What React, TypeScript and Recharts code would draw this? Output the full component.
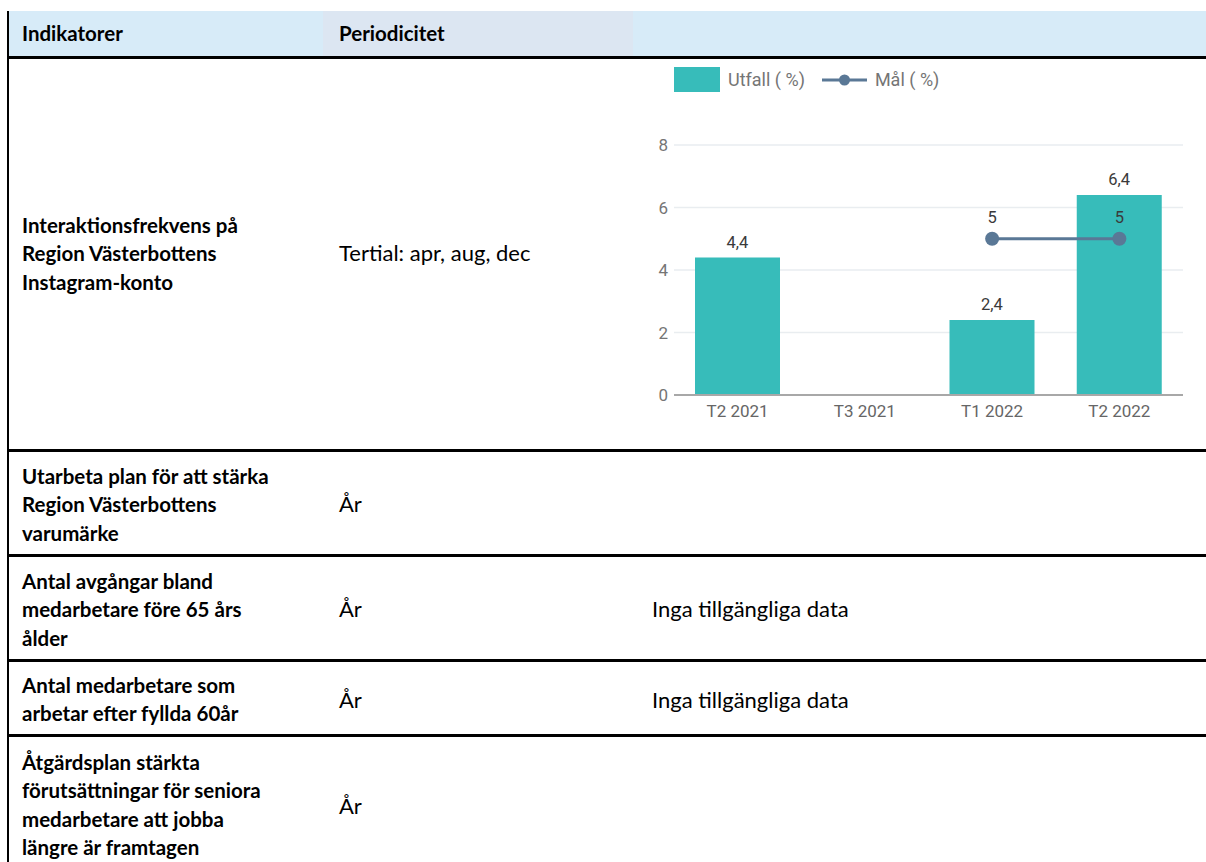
import React from "react";
import {
  ComposedChart,
  Bar,
  Line,
  XAxis,
  YAxis,
  CartesianGrid,
  Legend,
  LabelList,
} from "recharts";

// chart data
const periods = ["T2 2021", "T3 2021", "T1 2022", "T2 2022"];
const utfall: (number | null)[] = [4.4, null, 2.4, 6.4];
const mal: (number | null)[] = [null, null, 5, 5];
const yTicks = [0, 2, 4, 6, 8];

// table content
const headers = ["Indikatorer", "Periodicitet"];
const indicators = [
  ["Interaktionsfrekvens på", "Region Västerbottens", "Instagram-konto"],
  ["Utarbeta plan för att stärka", "Region Västerbottens", "varumärke"],
  ["Antal avgångar bland", "medarbetare före 65 års", "ålder"],
  ["Antal medarbetare som", "arbetar efter fyllda 60år"],
  [
    "Åtgärdsplan stärkta",
    "förutsättningar för seniora",
    "medarbetare att jobba",
    "längre är framtagen",
  ],
];
const periodicity = ["Tertial: apr, aug, dec", "År", "År", "År", "År"];
const noData = [null, null, "Inga tillgängliga data", "Inga tillgängliga data", null];

const TEAL = "#37bcba";
const SLATE = "#5a7896";
const TEXT_FONT = "Lato, 'Open Sans', sans-serif";
const CHART_FONT = "Roboto, sans-serif";
const LH = 28.5;
const BOLD_SIZE = 20.5;
const REG_SIZE = 22;

const rowBorders = [56, 449, 554, 659, 734];
// centre of first text line / of the single-line cells, per row
const firstLine = [225, 476, 581, 685, 762];
const middles = [253.5, 504, 609, 700, 806];

const chartData = periods.map((p, i) => ({ period: p, utfall: utfall[i], mal: mal[i] }));

const fmt = (v: any) => (v == null ? "" : String(v).replace(".", ","));

function ChartLegend() {
  return (
    <div
      style={{
        display: "flex",
        alignItems: "center",
        height: 25,
        fontFamily: CHART_FONT,
        fontSize: 18,
        color: "#757575",
        whiteSpace: "nowrap",
      }}
    >
      <span style={{ width: 46, height: 25, background: TEAL, display: "inline-block" }} />
      <span style={{ marginLeft: 8 }}>Utfall ( %)</span>
      <svg width={45} height={14} style={{ marginLeft: 17 }}>
        <line x1={0} y1={7} x2={45} y2={7} stroke={SLATE} strokeWidth={3} />
        <circle cx={22.5} cy={7} r={5.5} fill={SLATE} />
      </svg>
      <span style={{ marginLeft: 8 }}>Mål ( %)</span>
    </div>
  );
}

function InstagramChart() {
  return (
    <ComposedChart
      width={586}
      height={390}
      data={chartData}
      margin={{ top: 60, right: 23, left: 0, bottom: 0 }}
      style={{ fontFamily: CHART_FONT }}
    >
      <CartesianGrid vertical={false} stroke="#e9edf0" strokeWidth={1.5} />
      <Legend
        verticalAlign="top"
        align="left"
        height={25}
        wrapperStyle={{ top: 7, left: 54 }}
        content={() => <ChartLegend />}
      />
      <XAxis
        dataKey="period"
        height={55}
        tickLine={false}
        axisLine={{ stroke: "#a8a8a8", strokeWidth: 2 }}
        tick={{ fill: "#666666", fontSize: 17 }}
        tickMargin={4}
      />
      <YAxis
        domain={[0, 8]}
        ticks={yTicks}
        width={54}
        axisLine={false}
        tickLine={false}
        tickMargin={0}
        tick={{ fill: "#757575", fontSize: 17 }}
      />
      <Bar dataKey="utfall" fill={TEAL} barSize={85} isAnimationActive={false}>
        <LabelList
          dataKey="utfall"
          position="top"
          offset={10}
          formatter={fmt}
          style={{ fill: "#3a3a3a", fontSize: 16.5 }}
        />
      </Bar>
      <Line
        dataKey="mal"
        stroke={SLATE}
        strokeWidth={3}
        dot={{ r: 7, fill: SLATE, stroke: "none" }}
        activeDot={false}
        isAnimationActive={false}
      >
        <LabelList
          dataKey="mal"
          position="top"
          offset={16}
          formatter={fmt}
          style={{ fill: "#3a3a3a", fontSize: 16.5 }}
        />
      </Line>
    </ComposedChart>
  );
}

export default function App() {
  const abs = (s: React.CSSProperties): React.CSSProperties => ({ position: "absolute", ...s });
  const bold = (s: React.CSSProperties) =>
    abs({ lineHeight: `${LH}px`, fontWeight: 700, fontSize: BOLD_SIZE, ...s });
  const reg = (s: React.CSSProperties) => abs({ lineHeight: `${LH}px`, fontSize: REG_SIZE, ...s });
  return (
    <div
      style={abs({
        left: 0,
        top: 0,
        width: 1206,
        height: 862,
        background: "#fff",
        overflow: "hidden",
        fontFamily: TEXT_FONT,
        color: "#000",
        whiteSpace: "nowrap",
      })}
    >
      {/* header band */}
      <div style={abs({ left: 9, top: 11, width: 314, height: 46, background: "#d7ebf8" })} />
      <div style={abs({ left: 323, top: 11, width: 310, height: 46, background: "#dce6f2" })} />
      <div style={abs({ left: 633, top: 11, width: 573, height: 46, background: "#d7ebf8" })} />
      <div style={bold({ left: 22, top: 33 - LH / 2 })}>{headers[0]}</div>
      <div style={bold({ left: 339, top: 33 - LH / 2 })}>{headers[1]}</div>

      {/* borders */}
      <div style={abs({ left: 7, top: 11, width: 2, height: 851, background: "#000" })} />
      {rowBorders.map((y) => (
        <div key={y} style={abs({ left: 7, top: y, width: 1199, height: 3, background: "#000" })} />
      ))}

      {/* rows */}
      {indicators.map((lines, i) => (
        <div key={"ind" + i} style={bold({ left: 22, top: firstLine[i] - LH / 2 })}>
          {lines.map((l, j) => (
            <div key={j}>{l}</div>
          ))}
        </div>
      ))}
      {periodicity.map((p, i) => (
        <div key={"per" + i} style={reg({ left: 339, top: middles[i] - LH / 2 })}>
          {p}
        </div>
      ))}
      {noData.map((t, i) =>
        t ? (
          <div key={"nd" + i} style={reg({ left: 652, top: middles[i] - LH / 2 })}>
            {t}
          </div>
        ) : null
      )}

      {/* chart in the first row */}
      <div style={abs({ left: 620, top: 60, width: 586, height: 390 })}>
        <InstagramChart />
      </div>
    </div>
  );
}
